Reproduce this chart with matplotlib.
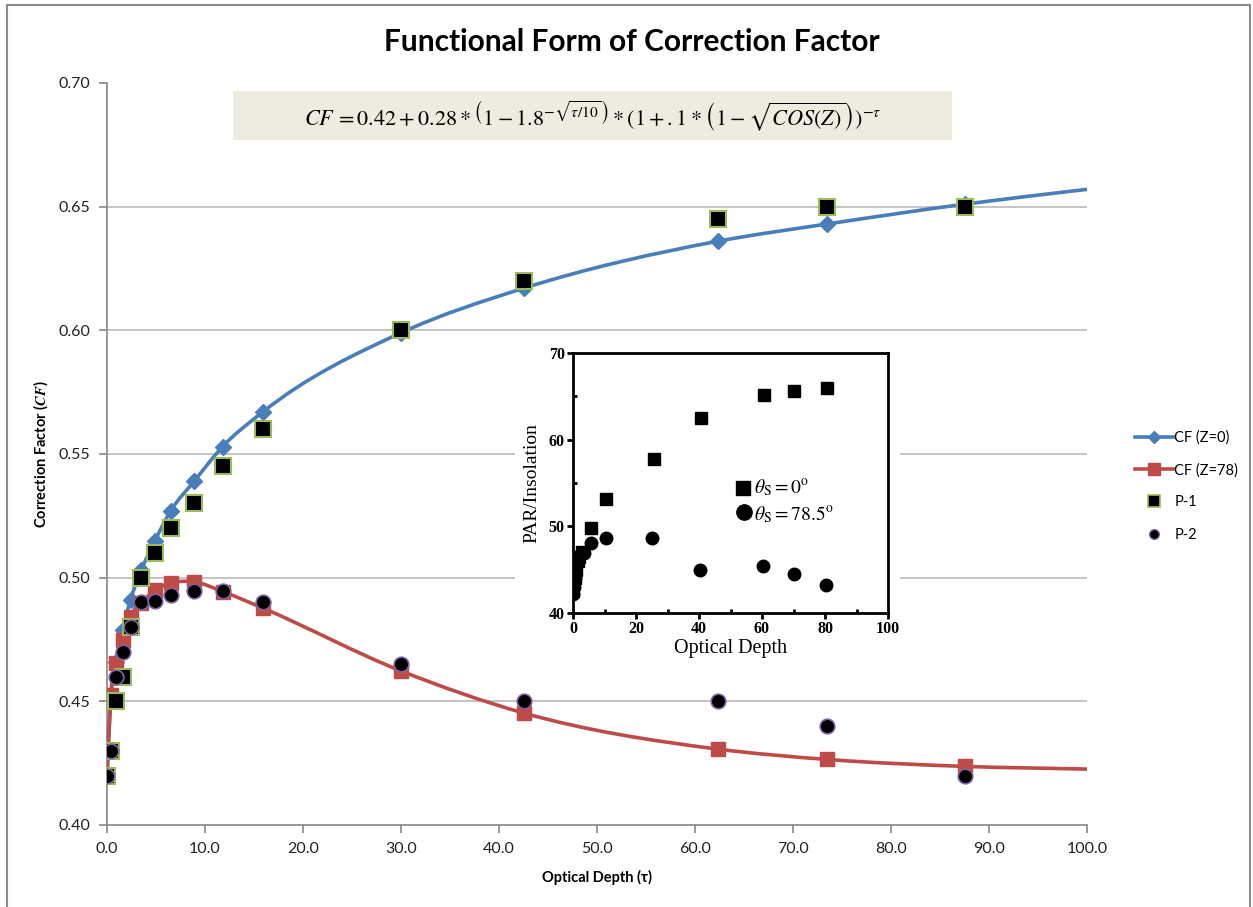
import numpy as np
import matplotlib.pyplot as plt
from matplotlib.path import Path
from matplotlib.patches import PathPatch, Rectangle
from matplotlib.lines import Line2D

plt.rcParams['font.family'] = ['Lato', 'DejaVu Sans']
plt.rcParams['mathtext.fontset'] = 'stix'

# Optical depth values of the plotted points
tau = [0, 0.4, 0.9, 1.6, 2.4, 3.5, 4.9, 6.5, 8.9, 11.8, 15.9, 30.0, 42.5, 62.3, 73.5, 87.5]
# curve end (line only, no marker)
tau_end = 100.0

cf_z0 = [0.420, 0.452, 0.466, 0.479, 0.491, 0.503, 0.515, 0.527, 0.539, 0.553, 0.567,
         0.599, 0.617, 0.636, 0.643, 0.651]
cf_z0_end = 0.657
cf_z78 = [0.420, 0.4526, 0.4655, 0.4748, 0.4842, 0.4898, 0.495, 0.4978, 0.4983, 0.4944, 0.4877,
          0.4623, 0.4453, 0.4307, 0.4265, 0.4237]
cf_z78_end = 0.4226
p1 = [0.42, 0.43, 0.45, 0.46, 0.48, 0.50, 0.51, 0.52, 0.53, 0.545, 0.56, 0.60, 0.62, 0.645, 0.65, 0.65]
p2 = [0.42, 0.43, 0.46, 0.47, 0.48, 0.49, 0.4906, 0.493, 0.4947, 0.4946, 0.490, 0.465, 0.45, 0.45, 0.44, 0.42]

# inset (scanned figure): PAR/Insolation vs optical depth
ins_sq_x = [0, 0.5, 1, 1.5, 2, 3, 5.7, 10.4, 25.7, 40.6, 60.7, 70.3, 80.7]
ins_sq_y = [42.5, 44.0, 45.0, 46.0, 46.5, 47.0, 49.8, 53.1, 57.8, 62.5, 65.2, 65.6, 66.0]
ins_ci_x = [0, 0.3, 0.5, 0.7, 1, 1.5, 2.5, 3.5, 5.6, 10.5, 25.1, 40.4, 60.4, 70.3, 80.4]
ins_ci_y = [42.2, 43.0, 44.0, 44.8, 45.5, 46.2, 46.8, 46.9, 48.1, 48.7, 48.6, 45.0, 45.4, 44.5, 43.2]

BLUE = '#4A7EBB'
RED = '#BE4B48'
GRID = '#BFBFBF'
AXC = '#868686'
SERIF = ['Liberation Serif', 'DejaVu Serif']

W, H = 1253, 907
fig = plt.figure(figsize=(W / 100, H / 100), dpi=100)


def fx(px):
    return px / W


def fy(py):
    return 1 - py / H


ax = fig.add_axes([fx(107), fy(825), fx(1087) - fx(107), fy(83) - fy(825)])


def smooth_path(xs, ys):
    # smoothed line through the points: cubic Hermite in x, drawn as Bezier segments
    xs = np.asarray(xs, float)
    ys = np.asarray(ys, float)
    n = len(xs)
    h = np.diff(xs)
    d = np.diff(ys) / h
    m = np.empty(n)
    m[0], m[-1] = d[0], d[-1]
    for i in range(1, n - 1):
        m[i] = (d[i - 1] * h[i] + d[i] * h[i - 1]) / (h[i - 1] + h[i])
    verts = [(xs[0], ys[0])]
    codes = [Path.MOVETO]
    for i in range(n - 1):
        c1 = (xs[i] + h[i] / 3, ys[i] + m[i] * h[i] / 3)
        c2 = (xs[i + 1] - h[i] / 3, ys[i + 1] - m[i + 1] * h[i] / 3)
        verts += [c1, c2, (xs[i + 1], ys[i + 1])]
        codes += [Path.CURVE4] * 3
    return Path(verts, codes)


for ys, yend, col, mk, ms in [(cf_z0, cf_z0_end, BLUE, 'D', 8), (cf_z78, cf_z78_end, RED, 's', 10.5)]:
    xs = tau + [tau_end]
    yy = ys + [yend]
    ax.add_patch(PathPatch(smooth_path(xs, yy), facecolor='none', edgecolor=col, lw=2.6,
                           zorder=3, capstyle='round'))
    ax.plot(tau, ys, ls='none', marker=mk, ms=ms, color=col, zorder=4)

ax.plot(tau, p1, ls='none', marker='s', ms=11, mfc='black', mec='#9BBB59', mew=1.5, zorder=5)
ax.plot(tau, p2, ls='none', marker='o', ms=10.5, mfc='black', mec='#8064A2', mew=1.2, zorder=6)

ax.set_xlim(0, 100)
ax.set_ylim(0.40, 0.70)
ax.set_xticks(np.arange(0, 101, 10))
ax.set_xticklabels([f'{v:.1f}' for v in np.arange(0, 101, 10)])
ax.set_yticks(np.arange(0.40, 0.701, 0.05))
ax.set_yticklabels([f'{v:.2f}' for v in np.arange(0.40, 0.701, 0.05)])
for v in np.arange(0.45, 0.66, 0.05):
    ax.axhline(v, color=GRID, lw=1.3, zorder=1)
for s in ['top', 'right']:
    ax.spines[s].set_visible(False)
for s in ['left', 'bottom']:
    ax.spines[s].set_color(AXC)
    ax.spines[s].set_linewidth(1.2)
ax.tick_params(direction='out', length=6, width=1.2, color=AXC, labelsize=11.5,
               labelcolor='#222222', pad=6)
ax.set_xlabel(r'Optical Depth (τ)', fontsize=10.5, fontweight='bold', labelpad=10)
ax.set_ylabel(r'Correction Factor ($\mathbfit{CF}$)', fontsize=10.5, fontweight='bold', labelpad=6)

fig.text(fx(632), fy(42), 'Functional Form of Correction Factor', ha='center', va='center',
         fontsize=21.5, fontweight='bold')

# formula box
fig.add_artist(Rectangle((fx(233), fy(140)), fx(952) - fx(233), fy(91) - fy(140),
                         transform=fig.transFigure, facecolor='#EEECE1', edgecolor='none', zorder=1))
fig.text(fx(593), fy(116),
         r'$CF\,=0.42+0.28*\left(1-1.8^{-\sqrt{\tau/10}}\right)'
         r'*(1+.1*\left(1-\sqrt{COS(Z)}\right))^{-\tau}$',
         ha='center', va='center', fontsize=16, zorder=2)

# outer chart border
fig.add_artist(Rectangle((fx(7), -0.01), fx(1250) - fx(7), fy(5) + 0.01, transform=fig.transFigure,
                         facecolor='none', edgecolor='#8C8C8C', lw=1.5, zorder=0))

# legend
handles = [
    Line2D([], [], color=BLUE, lw=2.6, marker='D', ms=6),
    Line2D([], [], color=RED, lw=2.6, marker='s', ms=8),
    Line2D([], [], ls='none', marker='s', ms=8, mfc='black', mec='#9BBB59', mew=1.2),
    Line2D([], [], ls='none', marker='o', ms=7, mfc='black', mec='#8064A2', mew=1.0),
]
fig.legend(handles, ['CF (Z=0)', 'CF (Z=78)', 'P-1', 'P-2'], loc='center left',
           bbox_to_anchor=(fx(1122), fy(486)), frameon=False, fontsize=10.5,
           handlelength=2.6, labelspacing=1.25, handletextpad=0.1)

# inset (scanned figure) with white background
fig.add_artist(Rectangle((fx(515), fy(665)), fx(900) - fx(515), fy(340) - fy(665),
                         transform=fig.transFigure, facecolor='white', edgecolor='none', zorder=1))
ins = fig.add_axes([fx(573), fy(613), fx(888) - fx(573), fy(353) - fy(613)], zorder=2)
ins.plot(ins_sq_x, ins_sq_y, ls='none', marker='s', ms=8.5, color='black')
ins.plot(ins_ci_x, ins_ci_y, ls='none', marker='o', ms=9, color='black')
ins.set_xlim(0, 100)
ins.set_ylim(40, 70)
ins.set_xticks(range(0, 101, 20))
ins.set_xticks(range(10, 100, 20), minor=True)
ins.set_yticks(range(40, 71, 10))
ins.set_yticks(range(45, 70, 10), minor=True)
for s in ins.spines.values():
    s.set_linewidth(2.0)
ins.tick_params(direction='out', length=4, width=2, labelsize=11.5, pad=2)
ins.tick_params(which='minor', direction='in', length=3, width=2)
for lab in ins.get_xticklabels() + ins.get_yticklabels():
    lab.set_family(SERIF)
    lab.set_fontweight('bold')
ins.set_xlabel('Optical Depth', family=SERIF, fontsize=14.5, labelpad=1)
ins.set_ylabel('PAR/Insolation', family=SERIF, fontsize=14, labelpad=6)
ins.plot([54.0], [54.4], ls='none', marker='s', ms=10, color='black')
ins.plot([54.3], [51.6], ls='none', marker='o', ms=11, color='black')
ins.text(57.5, 54.4, r'$\theta_{\mathrm{S}} = 0^{\mathrm{o}}$', fontsize=14, va='center')
ins.text(57.5, 51.3, r'$\theta_{\mathrm{S}} = 78.5^{\mathrm{o}}$', fontsize=14, va='center')

fig.savefig('out.png', dpi=100)
